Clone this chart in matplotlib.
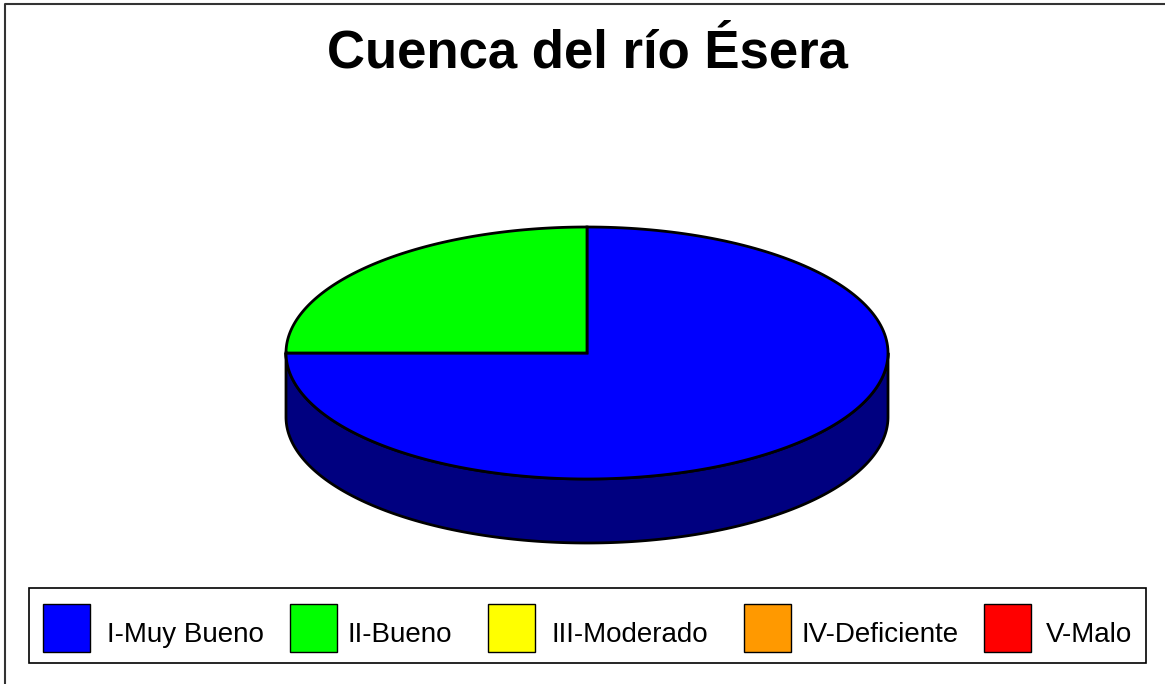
import numpy as np
import matplotlib
matplotlib.use("Agg")
import matplotlib.pyplot as plt
from matplotlib.patches import Polygon, Rectangle

plt.rcParams['font.family'] = ['Liberation Sans', 'DejaVu Sans']

title = "Cuenca del río Ésera"
categories = ["I-Muy Bueno", "II-Bueno", "III-Moderado", "IV-Deficiente", "V-Malo"]
values = [75, 25, 0, 0, 0]
colors = ["#0000FF", "#00FF00", "#FFFF00", "#FF9900", "#FF0000"]
side_colors = ["#000080", "#008000", "#808000", "#804C00", "#800000"]

W, H = 1165, 684
fig = plt.figure(figsize=(W / 100, H / 100), dpi=100)
ax = fig.add_axes([0, 0, 1, 1])
ax.set_xlim(0, W)
ax.set_ylim(H, 0)
ax.axis("off")

# outer frame (top and left edges)
ax.plot([5, 5, W], [H, 4, 4], color="#333333", lw=1.5, solid_capstyle="butt")

ax.text(587, 68, title, ha="center", va="baseline", fontsize=38, fontweight="bold")

# pie geometry
cx, cy, rx, ry, depth = 587, 353, 301, 126, 64


def ellipse_pts(a0, a1, dy=0.0, n=200):
    t = np.radians(np.linspace(a0, a1, n))
    return np.column_stack([cx + rx * np.cos(t), cy - ry * np.sin(t) + dy])


total = float(sum(values))
start = 90.0
wedges = []
for v, c, sc in zip(values, colors, side_colors):
    if v <= 0:
        continue
    sweep = 360.0 * v / total
    wedges.append((start - sweep, start, c, sc))  # clockwise from start
    start -= sweep

# front side walls (visible between 180 and 360 degrees)
for a0, a1, c, sc in wedges:
    for k in range(-1, 2):
        lo = max(a0, 180 + 360 * k)
        hi = min(a1, 360 + 360 * k)
        if hi <= lo:
            continue
        top = ellipse_pts(hi, lo)
        bot = ellipse_pts(lo, hi, dy=depth)
        ax.add_patch(Polygon(np.vstack([top, bot]), closed=True, facecolor=sc,
                             edgecolor="black", lw=2, joinstyle="round"))

# top faces
for a0, a1, c, sc in wedges:
    pts = np.vstack([[cx, cy], ellipse_pts(a0, a1), [cx, cy]])
    ax.add_patch(Polygon(pts, closed=True, facecolor=c, edgecolor="black",
                         lw=2, joinstyle="miter"))

# legend
ax.add_patch(Rectangle((29, 588), 1117, 75, facecolor="white",
                       edgecolor="black", lw=1.2))
patch_x = [43, 290, 488, 744, 984]
text_x = [107, 348, 551, 801, 1046]
for px, tx, lab, c in zip(patch_x, text_x, categories, colors):
    ax.add_patch(Rectangle((px, 604), 47, 48, facecolor=c, edgecolor="black", lw=1))
    ax.text(tx, 642, lab, ha="left", va="baseline", fontsize=20)

fig.savefig("out.png", dpi=100)
